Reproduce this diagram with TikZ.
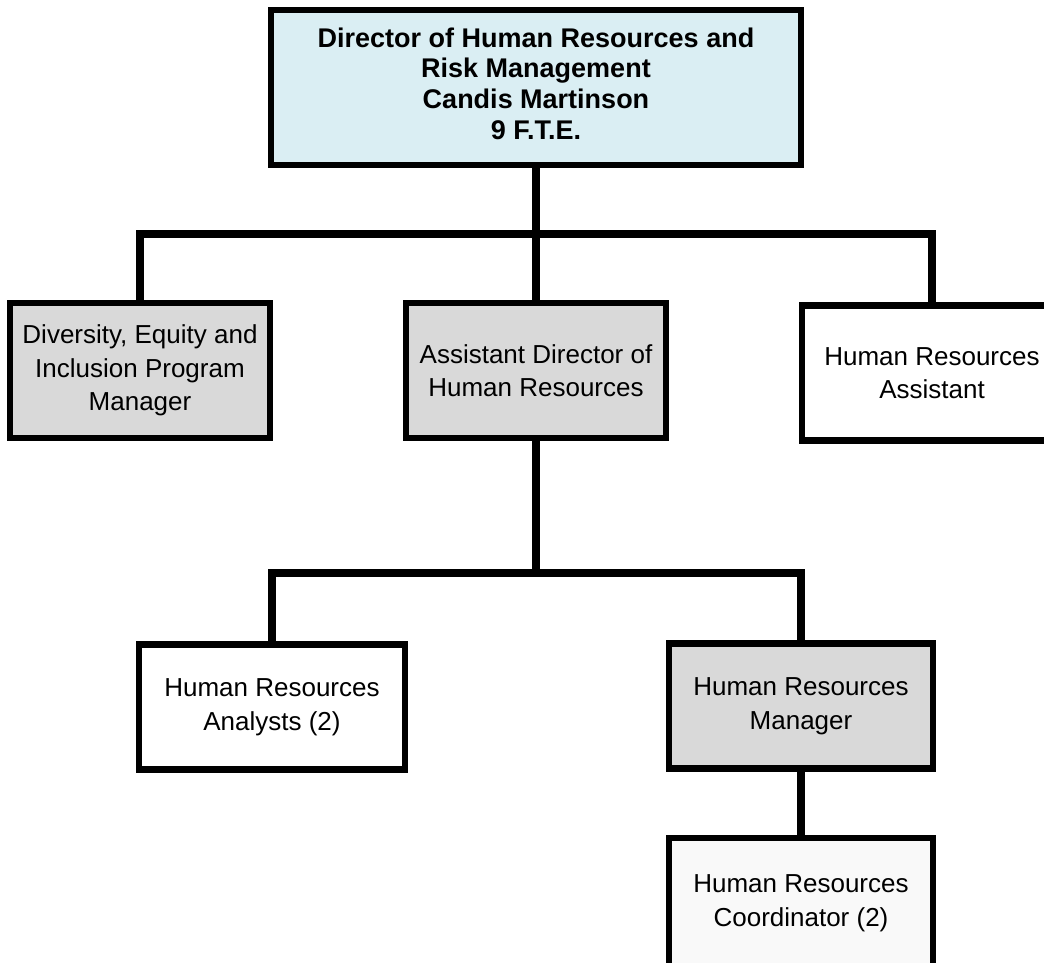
\documentclass[tikz,border=0pt]{standalone}
\usepackage{fontspec}
\setmainfont{Liberation Sans}
\usetikzlibrary{positioning}
\definecolor{hrblue}{HTML}{DAEEF3}
\definecolor{hrgrey}{HTML}{D9D9D9}
\definecolor{hrpale}{HTML}{F9F9F9}

\begin{document}
\begin{tikzpicture}[x=1pt,y=-1pt,
    box/.style={draw=black,line width=6.5pt,align=center,inner sep=0pt,minimum width=260pt,minimum height=135pt,font=\fontsize{26}{33.5}\selectfont},
    conn/.style={line width=7.5pt,black}]
  \useasboundingbox (0,0) rectangle (1044,962);
  \clip (0,0) rectangle (1044,962);
  \node[box,fill=hrblue,minimum width=530pt,minimum height=155pt] (dir) at (536,87.5) {};
  \node[font=\bfseries\fontsize{27}{30.7}\selectfont,align=center,inner sep=0pt] (dirtext) at ([yshift=4pt]dir.center) {Director of Human Resources and\\Risk Management\\Candis Martinson\\9 F.T.E.};
  \node[box,fill=hrgrey] (dei) at (140,370.5) {Diversity, Equity and\\Inclusion Program\\Manager};
  \node[box,fill=hrgrey] (adir) at (536,370.5) {Assistant Director of\\Human Resources};
  \node[box,fill=white] (hrasst) at (932,373) {Human Resources\\Assistant};
  \node[box,fill=white,minimum width=266pt,minimum height=125pt] (analyst) at (272,707) {Human Resources\\Analysts (2)};
  \node[box,fill=hrgrey,minimum width=264pt,minimum height=125pt] (hrmgr) at (801,706) {Human Resources\\Manager};
  \node[box,fill=hrpale,minimum width=264pt,minimum height=130pt] (coord) at (801,903) {Human Resources\\Coordinator (2)};
  \coordinate (bus1) at (536,234);
  \coordinate (bus2) at (536,573);
  \draw[conn] (dei.north) |- (bus1) -| (hrasst.north);
  \draw[conn] (dir.south) -- (adir.north);
  \draw[conn] (analyst.north) |- (bus2) -| (hrmgr.north);
  \draw[conn] (adir.south) -- (bus2);
  \draw[conn] (hrmgr.south) -- (coord.north);
\end{tikzpicture}
\end{document}
